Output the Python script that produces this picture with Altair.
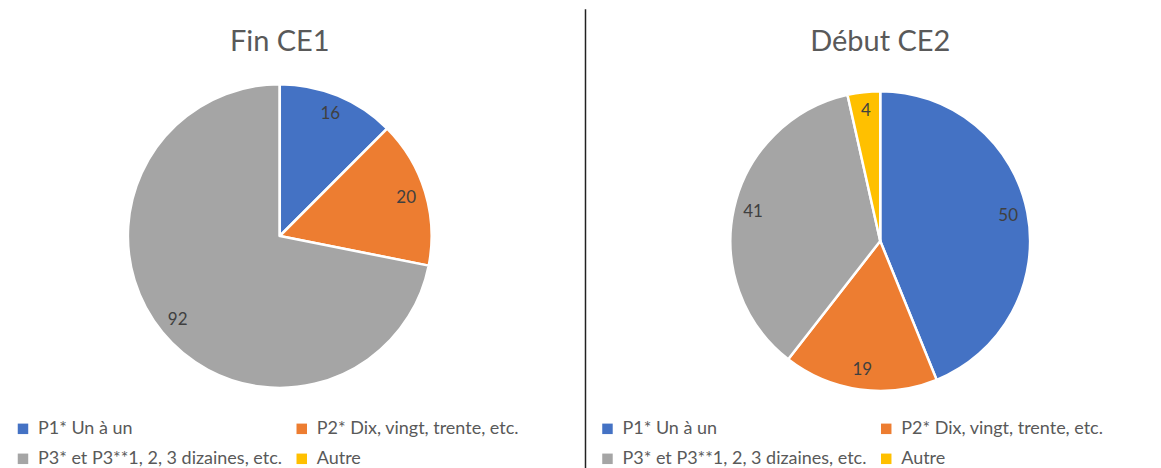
import altair as alt
import pandas as pd

categories = ["P1* Un à un", "P2* Dix, vingt, trente, etc.",
              "P3* et P3**1, 2, 3 dizaines, etc.", "Autre"]
fin_ce1 = [16, 20, 92, 0]
debut_ce2 = [50, 19, 41, 4]
titles = ["Fin CE1", "Début CE2"]
colors = ["#4472C4", "#ED7D31", "#A5A5A5", "#FFC000"]
legend_order = [categories[0], categories[2], categories[1], categories[3]]

FONT = "Lato"
H = 460


def panel(values, title, w, cx, cy, r, legx):
    df = pd.DataFrame({"cat": categories, "value": values,
                       "order": list(range(len(categories)))})
    base = alt.Chart(df).encode(
        theta=alt.Theta("value:Q", stack=True),
        order=alt.Order("order:Q"),
    )
    arcs = base.mark_arc(outerRadius=r, stroke="white", strokeWidth=2.5).encode(
        x=alt.value(cx), y=alt.value(cy),
        color=alt.Color("cat:N", sort=categories,
                        scale=alt.Scale(domain=categories, range=colors),
                        legend=alt.Legend(
                            title=None, orient="none", legendX=legx, legendY=411,
                            values=legend_order,
                            columns=2, symbolType="square", symbolSize=110,
                            symbolStrokeWidth=0, labelFont=FONT, labelFontSize=18,
                            labelColor="#595959", labelLimit=500, rowPadding=12,
                            columnPadding=10, labelOffset=6)),
    )
    labels = base.mark_text(radius=r * 0.87, font=FONT, fontSize=17,
                            color="#404040").encode(
        x=alt.value(cx), y=alt.value(cy),
        text=alt.condition(alt.datum.value > 0, alt.Text("value:Q"), alt.value("")),
    )
    ttl = alt.Chart(pd.DataFrame({"t": [title]})).mark_text(
        font=FONT, fontSize=29, color="#595959", baseline="middle"
    ).encode(x=alt.value(cx), y=alt.value(33), text="t:N")
    return alt.layer(arcs, labels, ttl).properties(width=w, height=H)


left = panel(fin_ce1, titles[0], 577, 272, 227, 152, 6)
right = panel(debut_ce2, titles[1], 567, 294, 232, 150, 12)

divider = alt.Chart(pd.DataFrame({"a": [0]})).mark_rule(
    color="#222222", strokeWidth=1.5
).encode(x=alt.value(0), y=alt.value(0), y2=alt.value(H)).properties(width=1, height=H)

chart = alt.hconcat(left, divider, right, spacing=0).resolve_legend(
    color="independent"
).properties(padding=0, background="white").configure_view(strokeWidth=0)

chart.save("out.html", embed_options={"renderer": "svg", "actions": False})
